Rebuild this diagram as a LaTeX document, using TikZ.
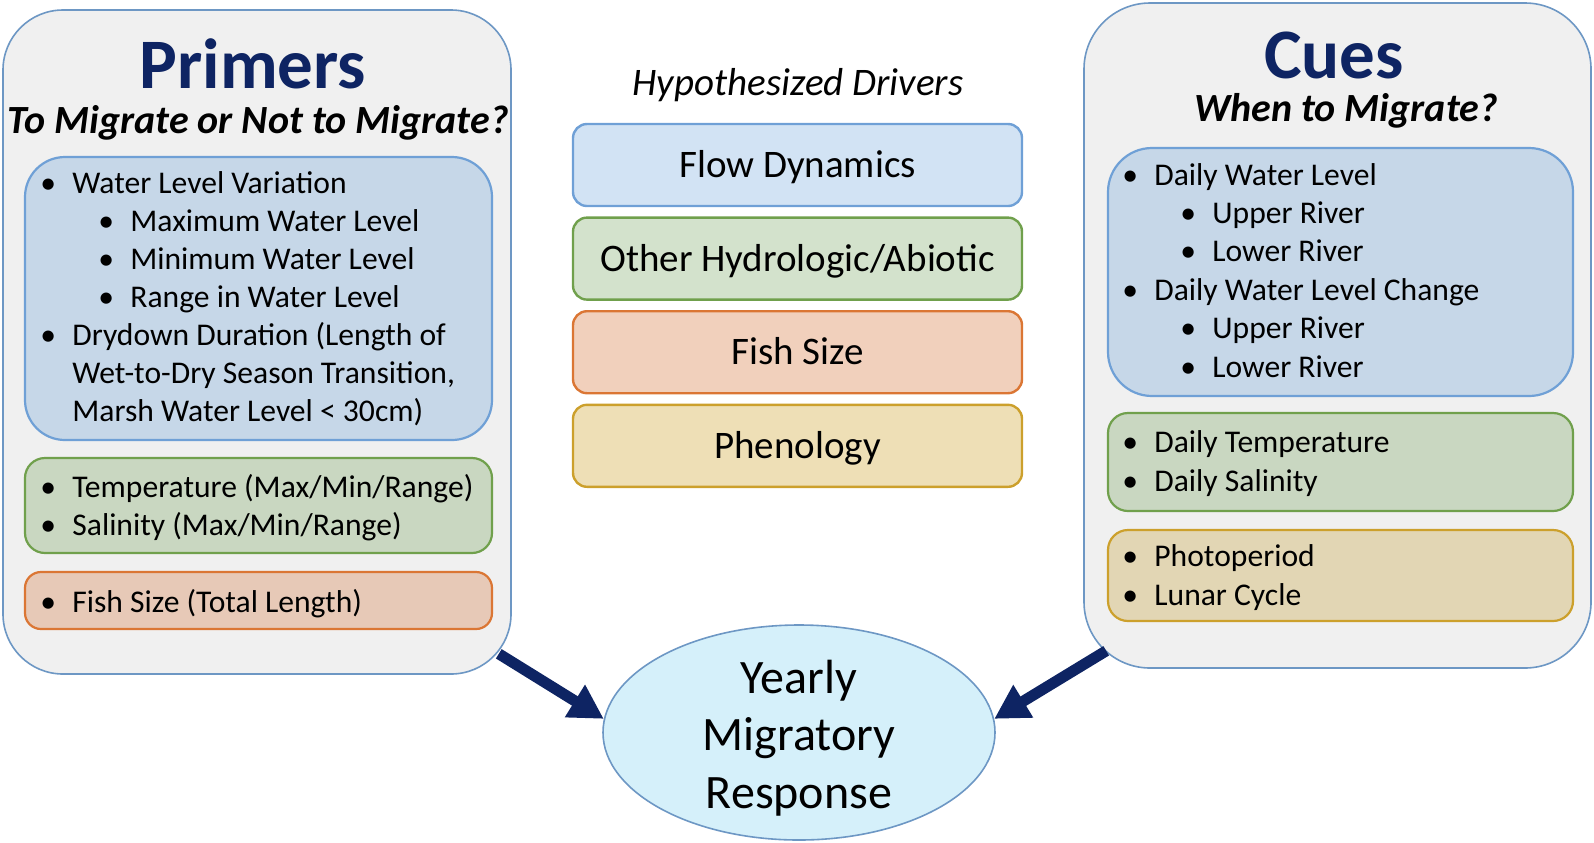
\documentclass[tikz,border=0pt]{standalone}
\usepackage{fontspec}
\setmainfont{Carlito}
\usetikzlibrary{arrows.meta,positioning,shapes.geometric}

\definecolor{navy}{HTML}{0E2463}
\definecolor{panelfill}{HTML}{F0F0F0}
\definecolor{panelline}{HTML}{6D97C4}
\definecolor{bluefill}{HTML}{C6D7E8}
\definecolor{blueline}{HTML}{6FA0D6}
\definecolor{flowfill}{HTML}{D2E3F4}
\definecolor{greenfill}{HTML}{C9D7C1}
\definecolor{greenline}{HTML}{70A04C}
\definecolor{hydrofill}{HTML}{D3E2CC}
\definecolor{orangefill}{HTML}{E7C9B7}
\definecolor{orangeline}{HTML}{DB7634}
\definecolor{sizefill}{HTML}{F1D0BC}
\definecolor{yellowfill}{HTML}{E2D6B4}
\definecolor{yellowline}{HTML}{CCA02C}
\definecolor{phenofill}{HTML}{EEDFB6}
\definecolor{respfill}{HTML}{D5F0FA}

\newcommand{\bpt}[1]{\makebox[16pt][l]{\textbullet}#1}
\newcommand{\subpt}[1]{\hspace*{29pt}\bpt{#1}}
\newcommand{\cont}{\hspace*{16pt}}

\begin{document}
\begin{tikzpicture}[
  x=0.5pt, y=-0.5pt,
  panel/.style={rectangle, draw=panelline, line width=0.8pt, fill=panelfill,
                inner sep=0pt},
  group/.style={rectangle, line width=1.1pt, inner sep=0pt},
  driver/.style={rectangle, draw, line width=1.2pt, rounded corners=7pt,
                 minimum width=224.5pt, minimum height=41pt, inner sep=0pt,
                 outer sep=0pt, font=\fontsize{19.5}{23}\selectfont,
                 text height=12.5pt, text depth=0pt},
  items/.style={align=left, inner sep=0pt, anchor=base west,
                font=\fontsize{15.8}{19}\selectfont},
  title/.style={font=\fontsize{35.5}{40}\selectfont\bfseries, text=navy,
                inner sep=0pt, anchor=base},
  question/.style={font=\fontsize{20}{24}\selectfont\bfseries\itshape,
                   inner sep=0pt, anchor=base},
  influence/.style={-{Triangle[length=17pt,width=18pt]}, line width=5.5pt,
                    draw=navy},
]
  \useasboundingbox (0,0) rectangle (1594,842);

  % Primers panel (lists are placed by their last baseline)
  \node[panel, rounded corners=30pt, minimum width=254pt, minimum height=332pt]
    (primers) at (257,342) {};
  \node[title] (ptitle) at (253,88) {Primers};
  \node[question] (pquest) at (258,133) {To Migrate or Not to Migrate?};
  \node[group, draw=blueline, fill=bluefill, rounded corners=20pt,
        minimum width=233.5pt, minimum height=141.5pt] (pwater) at (258.5,298.5) {};
  \node[group, draw=greenline, fill=greenfill, rounded corners=10pt,
        minimum width=233.5pt, minimum height=47.5pt] (pabiotic) at (258.5,505.5) {};
  \node[group, draw=orangeline, fill=orangefill, rounded corners=8pt,
        minimum width=233.5pt, minimum height=28.5pt] (psize) at (258.5,600.5) {};
  \node[items] (pwaterlist) at (40,421) {\bpt{Water Level Variation}\\
    \subpt{Maximum Water Level}\\ \subpt{Minimum Water Level}\\
    \subpt{Range in Water Level}\\ \bpt{Drydown Duration (Length of}\\
    \cont Wet-to-Dry Season Transition,\\ \cont Marsh Water Level < 30cm)};
  \node[items] (pabioticlist) at (40,535) {\bpt{Temperature (Max/Min/Range)}\\
    \bpt{Salinity (Max/Min/Range)}};
  \node[items] (psizelist) at (40,612) {\bpt{Fish Size (Total Length)}};

  % Hypothesized drivers
  \node[font=\fontsize{19.5}{23}\selectfont\itshape, inner sep=0pt, anchor=base]
    (hyp) at (798,95) {Hypothesized Drivers};
  \node[driver, draw=blueline, fill=flowfill] (flow) at (797.5,165) {Flow Dynamics};
  \node[driver, draw=greenline, fill=hydrofill, below=5.8pt of flow] (hydro)
    {Other Hydrologic/Abiotic};
  \node[driver, draw=orangeline, fill=sizefill, below=5.8pt of hydro] (size)
    {Fish Size};
  \node[driver, draw=yellowline, fill=phenofill, below=5.8pt of size] (pheno)
    {Phenology};

  % Cues panel
  \node[panel, rounded corners=33pt, minimum width=253.5pt, minimum height=332.5pt]
    (cues) at (1337.5,335.5) {};
  \node[title] (ctitle) at (1334,78) {Cues};
  \node[question] (cquest) at (1346,121) {When to Migrate?};
  \node[group, draw=blueline, fill=bluefill, rounded corners=22pt,
        minimum width=232.5pt, minimum height=124pt] (cwater) at (1340.5,272) {};
  \node[group, draw=greenline, fill=greenfill, rounded corners=10pt,
        minimum width=232.5pt, minimum height=49pt] (cabiotic) at (1340.5,462) {};
  \node[group, draw=yellowline, fill=yellowfill, rounded corners=10pt,
        minimum width=232.5pt, minimum height=45.5pt] (ctime) at (1340.5,575.5) {};
  \node[items, font=\fontsize{15.8}{19.2}\selectfont] (cwaterlist) at (1122,377)
    {\bpt{Daily Water Level}\\ \subpt{Upper River}\\ \subpt{Lower River}\\
    \bpt{Daily Water Level Change}\\ \subpt{Upper River}\\ \subpt{Lower River}};
  \node[items, font=\fontsize{15.8}{19.2}\selectfont] (cabioticlist) at (1122,491)
    {\bpt{Daily Temperature}\\ \bpt{Daily Salinity}};
  \node[items, font=\fontsize{15.8}{19.2}\selectfont] (ctimelist) at (1122,605)
    {\bpt{Photoperiod}\\ \bpt{Lunar Cycle}};

  % Response
  \node[ellipse, draw=panelline, fill=respfill, line width=0.8pt, inner xsep=0pt,
        inner ysep=-9pt, minimum width=196pt, minimum height=107.5pt,
        align=center, font=\fontsize{24}{28.75}\selectfont] (resp) at (799,732.5)
    {\rule{0pt}{22pt}Yearly\\Migratory\\Response};

  % Arrows
  \coordinate (ptail) at ([shift={(-13,-21)}]primers.south east);
  \coordinate (ctail) at ([shift={(23,-18)}]cues.south west);
  \draw[influence] (ptail) -- (resp.176);
  \draw[influence] (ctail) -- (resp.4);
\end{tikzpicture}
\end{document}
